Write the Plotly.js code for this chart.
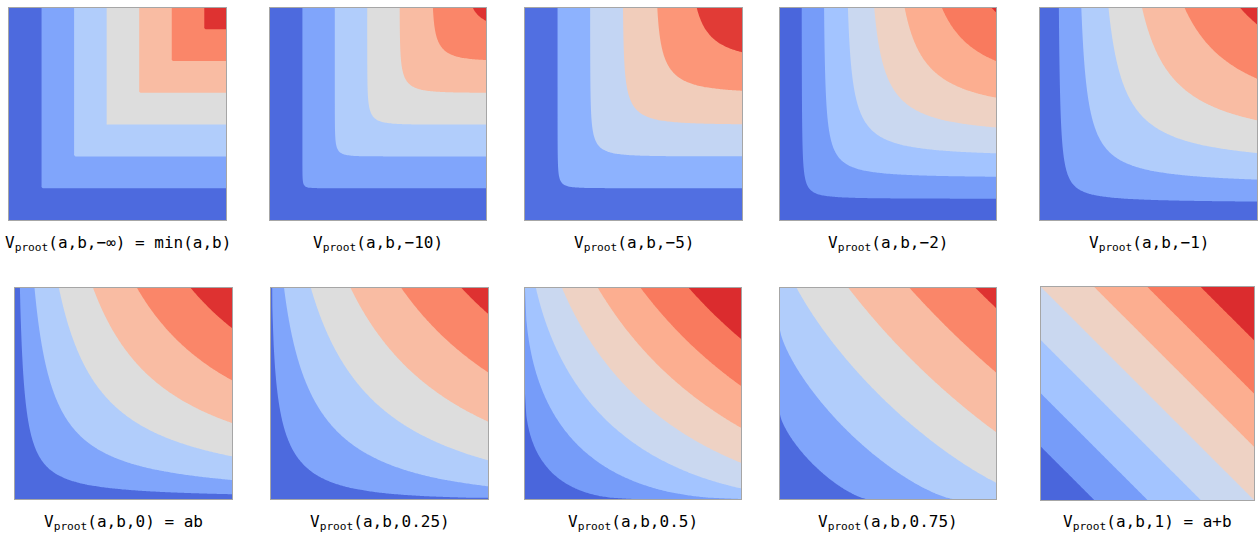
<!DOCTYPE html>
<html>
<head>
<meta charset="utf-8">
<script src="https://cdn.plot.ly/plotly-3.0.1.min.js"></script>
<style>
  body { margin: 0; background: #fff; }
  #plot { width: 1260px; height: 537px; }
</style>
</head>
<body>
<div id="plot"></div>
<script>
// exponent p of each panel, in reading order
var pValues = [-Infinity, -10, -5, -2, -1, 0, 0.25, 0.5, 0.75, 1];
var titles = [
    'V<sub>proot</sub>(a,b,−∞) = min(a,b)',
    'V<sub>proot</sub>(a,b,−10)',
    'V<sub>proot</sub>(a,b,−5)',
    'V<sub>proot</sub>(a,b,−2)',
    'V<sub>proot</sub>(a,b,−1)',
    'V<sub>proot</sub>(a,b,0) = ab',
    'V<sub>proot</sub>(a,b,0.25)',
    'V<sub>proot</sub>(a,b,0.5)',
    'V<sub>proot</sub>(a,b,0.75)',
    'V<sub>proot</sub>(a,b,1) = a+b'
];
// contour spacing and highest contour level
var levelStep = [0.15, 0.15, 0.15, 0.1, 0.08, 0.15, 2.5, 0.5, 0.4, 0.25];
var levelTop = [0.9, 0.9, 0.75, 0.7, 0.48, 0.9, 15, 3.5, 2.4, 1.75];

// panel boxes in pixels: left, right, top, bottom
var boxes = [
    [9, 226, 8, 220], [270, 486, 8, 220], [525, 742, 8, 220], [780, 996, 8, 220], [1040, 1257, 8, 220],
    [15, 232, 288, 499], [271, 488, 288, 499], [525, 741, 288, 499], [780, 996, 288, 499], [1041, 1254, 287, 500]
];
var W = 1260, H = 537;

// coolwarm anchors (a bit more saturated on the warm side, like the reference)
var cw = [
    [0, 59, 76, 192], [0.0625, 74, 102, 220], [0.125, 96, 130, 236], [0.1875, 118, 156, 249],
    [0.25, 141, 178, 254], [0.3125, 163, 196, 255], [0.375, 182, 208, 250], [0.4375, 202, 216, 240],
    [0.5, 221, 221, 221], [0.5625, 238, 210, 196], [0.625, 248, 194, 170], [0.6875, 252, 174, 144],
    [0.75, 252, 150, 120], [0.8125, 249, 122, 94], [0.875, 238, 88, 70], [0.9375, 219, 44, 46],
    [1, 190, 10, 35]
];

function coolwarm(t) {
    for (var i = 1; i < cw.length; i++) {
        if (t <= cw[i][0]) {
            var f = (t - cw[i - 1][0]) / (cw[i][0] - cw[i - 1][0]);
            var c = [1, 2, 3].map(k => Math.round(cw[i - 1][k] + f * (cw[i][k] - cw[i - 1][k])));
            return 'rgb(' + c.join(',') + ')';
        }
    }
    return 'rgb(190,10,35)';
}

function vproot(a, b, p) {
    if (p === -Infinity) return Math.min(a, b);
    if (p === 0) return Math.sqrt(a * b);
    return Math.pow(Math.pow(a, p) + Math.pow(b, p), 1 / p);
}

var n = 161;
var grid = [];
for (var i = 0; i < n; i++) grid.push(i / (n - 1));

var data = [];
var layout = {
    width: W, height: H,
    margin: {l: 0, r: 0, t: 0, b: 0},
    paper_bgcolor: '#fff', plot_bgcolor: '#fff',
    showlegend: false,
    annotations: []
};

pValues.forEach(function (p, k) {
    var z = grid.map(b => grid.map(a => vproot(a, b, p)));
    var nLevels = Math.round(levelTop[k] / levelStep[k]);
    var nBands = nLevels + 1;
    var scale = [];
    for (var j = 0; j < nBands; j++) {
        scale.push([j / (nBands - 1), coolwarm((j + 0.5) / nBands)]);
    }
    var ax = k === 0 ? '' : String(k + 1);
    data.push({
        type: 'contour',
        x: grid, y: grid, z: z,
        xaxis: 'x' + ax, yaxis: 'y' + ax,
        autocontour: false,
        contours: {start: levelStep[k], end: levelTop[k], size: levelStep[k], coloring: 'fill'},
        colorscale: scale,
        line: {width: 0, smoothing: 1},
        showscale: false,
        hoverinfo: 'skip'
    });
    var bx = boxes[k];
    var axis = {
        domain: [bx[0] / W, bx[1] / W],
        range: [0, 1],
        showgrid: false, zeroline: false, showticklabels: false, ticks: '',
        showline: true, mirror: true, linecolor: '#a6a6a6', linewidth: 1
    };
    layout['xaxis' + ax] = Object.assign({}, axis, {anchor: 'y' + ax});
    layout['yaxis' + ax] = Object.assign({}, axis, {
        domain: [1 - bx[3] / H, 1 - bx[2] / H], anchor: 'x' + ax
    });
    layout.annotations.push({
        text: titles[k],
        xref: 'paper', yref: 'paper',
        x: (bx[0] + bx[1]) / 2 / W,
        y: 1 - (k < 5 ? 243 : 522) / H,
        xanchor: 'center', yanchor: 'middle',
        showarrow: false,
        font: {family: 'DejaVu Sans Mono', size: 16, color: '#000'}
    });
});

Plotly.newPlot('plot', data, layout, {staticPlot: true});
</script>
</body>
</html>
